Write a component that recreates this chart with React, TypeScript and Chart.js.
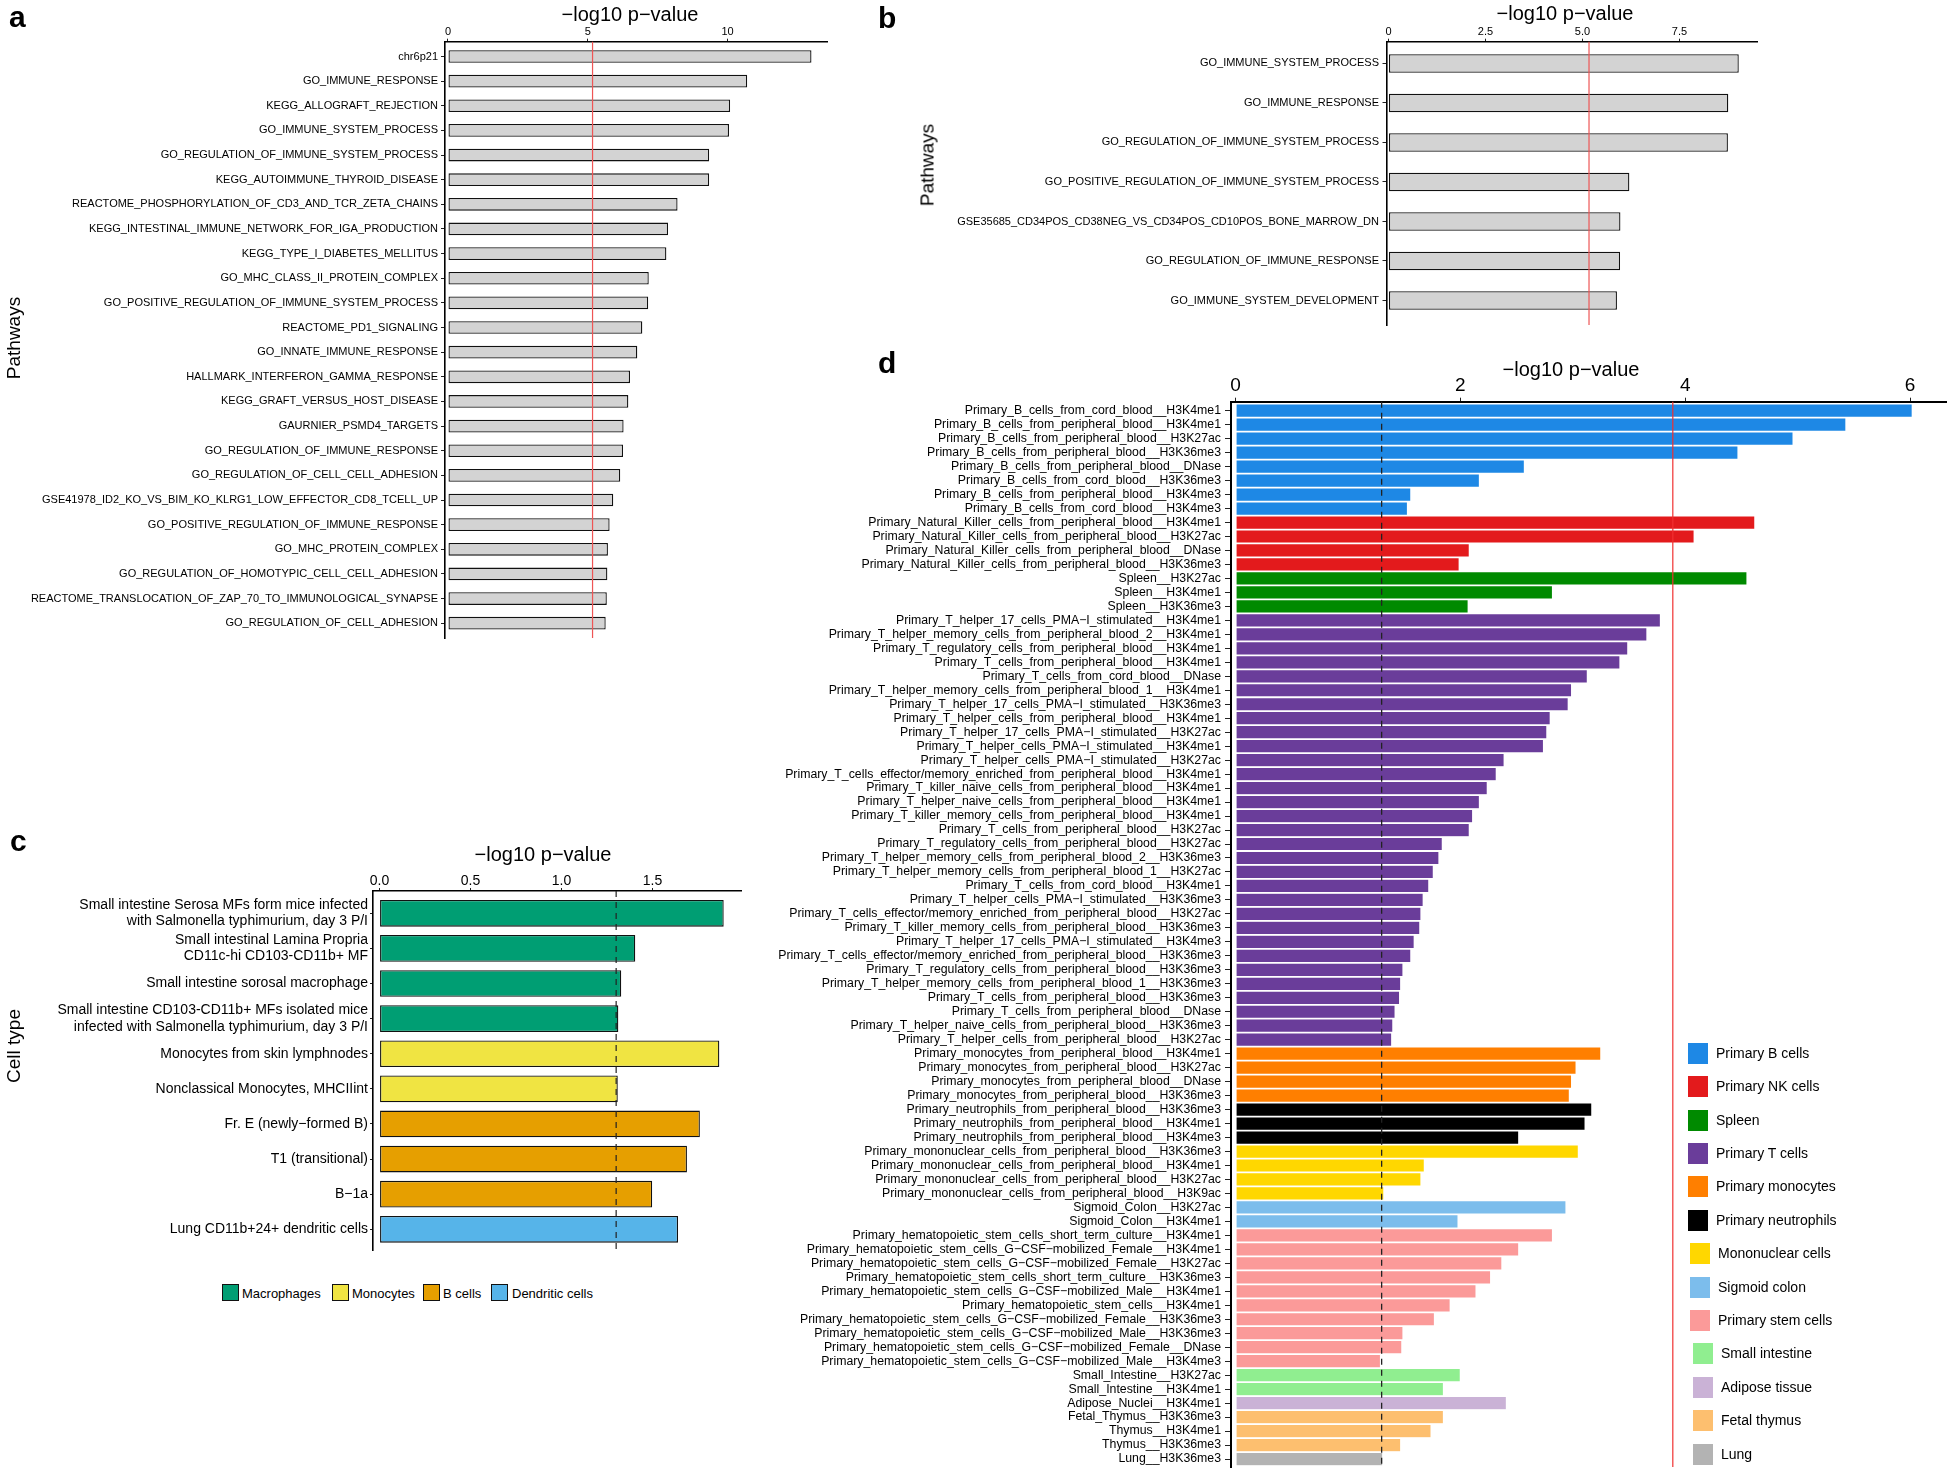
import React, { useEffect, useRef } from 'react';
import { Chart, registerables } from 'chart.js';

Chart.register(...registerables);

const FONT = "'Liberation Sans', Arial, Helvetica, sans-serif";
Chart.defaults.font.family = FONT;
Chart.defaults.color = '#000';

// ---------------- Panel a ----------------
const aLabels = [
  'chr6p21',
  'GO_IMMUNE_RESPONSE',
  'KEGG_ALLOGRAFT_REJECTION',
  'GO_IMMUNE_SYSTEM_PROCESS',
  'GO_REGULATION_OF_IMMUNE_SYSTEM_PROCESS',
  'KEGG_AUTOIMMUNE_THYROID_DISEASE',
  'REACTOME_PHOSPHORYLATION_OF_CD3_AND_TCR_ZETA_CHAINS',
  'KEGG_INTESTINAL_IMMUNE_NETWORK_FOR_IGA_PRODUCTION',
  'KEGG_TYPE_I_DIABETES_MELLITUS',
  'GO_MHC_CLASS_II_PROTEIN_COMPLEX',
  'GO_POSITIVE_REGULATION_OF_IMMUNE_SYSTEM_PROCESS',
  'REACTOME_PD1_SIGNALING',
  'GO_INNATE_IMMUNE_RESPONSE',
  'HALLMARK_INTERFERON_GAMMA_RESPONSE',
  'KEGG_GRAFT_VERSUS_HOST_DISEASE',
  'GAURNIER_PSMD4_TARGETS',
  'GO_REGULATION_OF_IMMUNE_RESPONSE',
  'GO_REGULATION_OF_CELL_CELL_ADHESION',
  'GSE41978_ID2_KO_VS_BIM_KO_KLRG1_LOW_EFFECTOR_CD8_TCELL_UP',
  'GO_POSITIVE_REGULATION_OF_IMMUNE_RESPONSE',
  'GO_MHC_PROTEIN_COMPLEX',
  'GO_REGULATION_OF_HOMOTYPIC_CELL_CELL_ADHESION',
  'REACTOME_TRANSLOCATION_OF_ZAP_70_TO_IMMUNOLOGICAL_SYNAPSE',
  'GO_REGULATION_OF_CELL_ADHESION',
];
const aValues = [
  13.0, 10.7, 10.09, 10.05, 9.34, 9.34, 8.21, 7.87, 7.81, 7.18, 7.16, 6.95,
  6.77, 6.51, 6.45, 6.28, 6.26, 6.16, 5.91, 5.78, 5.72, 5.7, 5.68, 5.64,
];
const aTicks = [0, 5, 10];
const aTickLabels = ['0', '5', '10'];

// ---------------- Panel b ----------------
const bLabels = [
  'GO_IMMUNE_SYSTEM_PROCESS',
  'GO_IMMUNE_RESPONSE',
  'GO_REGULATION_OF_IMMUNE_SYSTEM_PROCESS',
  'GO_POSITIVE_REGULATION_OF_IMMUNE_SYSTEM_PROCESS',
  'GSE35685_CD34POS_CD38NEG_VS_CD34POS_CD10POS_BONE_MARROW_DN',
  'GO_REGULATION_OF_IMMUNE_RESPONSE',
  'GO_IMMUNE_SYSTEM_DEVELOPMENT',
];
const bValues = [9.03, 8.76, 8.75, 6.21, 5.98, 5.97, 5.89];
const bTicks = [0, 2.5, 5, 7.5];
const bTickLabels = ['0', '2.5', '5.0', '7.5'];

const abThreshold = 5.17;

// ---------------- Panel c ----------------
const cLabels: (string | string[])[] = [
  ['Small intestine Serosa MFs form mice infected', 'with Salmonella typhimurium, day 3 P/I'],
  ['Small intestinal Lamina Propria', 'CD11c-hi CD103-CD11b+ MF'],
  'Small intestine sorosal macrophage',
  ['Small intestine CD103-CD11b+ MFs isolated mice', 'infected with Salmonella typhimurium, day 3 P/I'],
  'Monocytes from skin lymphnodes',
  'Nonclassical Monocytes, MHCIIint',
  'Fr. E (newly\u2212formed B)',
  'T1 (transitional)',
  'B\u22121a',
  'Lung CD11b+24+ dendritic cells',
];
const cValues = [1.891, 1.405, 1.328, 1.312, 1.867, 1.309, 1.76, 1.689, 1.498, 1.64];
const cGroupOfBar = [0, 0, 0, 0, 1, 1, 2, 2, 2, 3];
const cGroupNames = ['Macrophages', 'Monocytes', 'B cells', 'Dendritic cells'];
const cGroupColors = ['#009E73', '#F0E442', '#E69F00', '#56B4E9'];
const cTicks = [0, 0.5, 1.0, 1.5];
const cTickLabels = ['0.0', '0.5', '1.0', '1.5'];
const cDashed = 1.3;

// ---------------- Panel d ----------------
const dLabels = [
  'Primary_B_cells_from_cord_blood__H3K4me1',
  'Primary_B_cells_from_peripheral_blood__H3K4me1',
  'Primary_B_cells_from_peripheral_blood__H3K27ac',
  'Primary_B_cells_from_peripheral_blood__H3K36me3',
  'Primary_B_cells_from_peripheral_blood__DNase',
  'Primary_B_cells_from_cord_blood__H3K36me3',
  'Primary_B_cells_from_peripheral_blood__H3K4me3',
  'Primary_B_cells_from_cord_blood__H3K4me3',
  'Primary_Natural_Killer_cells_from_peripheral_blood__H3K4me1',
  'Primary_Natural_Killer_cells_from_peripheral_blood__H3K27ac',
  'Primary_Natural_Killer_cells_from_peripheral_blood__DNase',
  'Primary_Natural_Killer_cells_from_peripheral_blood__H3K36me3',
  'Spleen__H3K27ac',
  'Spleen__H3K4me1',
  'Spleen__H3K36me3',
  'Primary_T_helper_17_cells_PMA\u2212I_stimulated__H3K4me1',
  'Primary_T_helper_memory_cells_from_peripheral_blood_2__H3K4me1',
  'Primary_T_regulatory_cells_from_peripheral_blood__H3K4me1',
  'Primary_T_cells_from_peripheral_blood__H3K4me1',
  'Primary_T_cells_from_cord_blood__DNase',
  'Primary_T_helper_memory_cells_from_peripheral_blood_1__H3K4me1',
  'Primary_T_helper_17_cells_PMA\u2212I_stimulated__H3K36me3',
  'Primary_T_helper_cells_from_peripheral_blood__H3K4me1',
  'Primary_T_helper_17_cells_PMA\u2212I_stimulated__H3K27ac',
  'Primary_T_helper_cells_PMA\u2212I_stimulated__H3K4me1',
  'Primary_T_helper_cells_PMA\u2212I_stimulated__H3K27ac',
  'Primary_T_cells_effector/memory_enriched_from_peripheral_blood__H3K4me1',
  'Primary_T_killer_naive_cells_from_peripheral_blood__H3K4me1',
  'Primary_T_helper_naive_cells_from_peripheral_blood__H3K4me1',
  'Primary_T_killer_memory_cells_from_peripheral_blood__H3K4me1',
  'Primary_T_cells_from_peripheral_blood__H3K27ac',
  'Primary_T_regulatory_cells_from_peripheral_blood__H3K27ac',
  'Primary_T_helper_memory_cells_from_peripheral_blood_2__H3K36me3',
  'Primary_T_helper_memory_cells_from_peripheral_blood_1__H3K27ac',
  'Primary_T_cells_from_cord_blood__H3K4me1',
  'Primary_T_helper_cells_PMA\u2212I_stimulated__H3K36me3',
  'Primary_T_cells_effector/memory_enriched_from_peripheral_blood__H3K27ac',
  'Primary_T_killer_memory_cells_from_peripheral_blood__H3K36me3',
  'Primary_T_helper_17_cells_PMA\u2212I_stimulated__H3K4me3',
  'Primary_T_cells_effector/memory_enriched_from_peripheral_blood__H3K36me3',
  'Primary_T_regulatory_cells_from_peripheral_blood__H3K36me3',
  'Primary_T_helper_memory_cells_from_peripheral_blood_1__H3K36me3',
  'Primary_T_cells_from_peripheral_blood__H3K36me3',
  'Primary_T_cells_from_peripheral_blood__DNase',
  'Primary_T_helper_naive_cells_from_peripheral_blood__H3K36me3',
  'Primary_T_helper_cells_from_peripheral_blood__H3K27ac',
  'Primary_monocytes_from_peripheral_blood__H3K4me1',
  'Primary_monocytes_from_peripheral_blood__H3K27ac',
  'Primary_monocytes_from_peripheral_blood__DNase',
  'Primary_monocytes_from_peripheral_blood__H3K36me3',
  'Primary_neutrophils_from_peripheral_blood__H3K36me3',
  'Primary_neutrophils_from_peripheral_blood__H3K4me1',
  'Primary_neutrophils_from_peripheral_blood__H3K4me3',
  'Primary_mononuclear_cells_from_peripheral_blood__H3K36me3',
  'Primary_mononuclear_cells_from_peripheral_blood__H3K4me1',
  'Primary_mononuclear_cells_from_peripheral_blood__H3K27ac',
  'Primary_mononuclear_cells_from_peripheral_blood__H3K9ac',
  'Sigmoid_Colon__H3K27ac',
  'Sigmoid_Colon__H3K4me1',
  'Primary_hematopoietic_stem_cells_short_term_culture__H3K4me1',
  'Primary_hematopoietic_stem_cells_G\u2212CSF\u2212mobilized_Female__H3K4me1',
  'Primary_hematopoietic_stem_cells_G\u2212CSF\u2212mobilized_Female__H3K27ac',
  'Primary_hematopoietic_stem_cells_short_term_culture__H3K36me3',
  'Primary_hematopoietic_stem_cells_G\u2212CSF\u2212mobilized_Male__H3K4me1',
  'Primary_hematopoietic_stem_cells__H3K4me1',
  'Primary_hematopoietic_stem_cells_G\u2212CSF\u2212mobilized_Female__H3K36me3',
  'Primary_hematopoietic_stem_cells_G\u2212CSF\u2212mobilized_Male__H3K36me3',
  'Primary_hematopoietic_stem_cells_G\u2212CSF\u2212mobilized_Female__DNase',
  'Primary_hematopoietic_stem_cells_G\u2212CSF\u2212mobilized_Male__H3K4me3',
  'Small_Intestine__H3K27ac',
  'Small_Intestine__H3K4me1',
  'Adipose_Nuclei__H3K4me1',
  'Fetal_Thymus__H3K36me3',
  'Thymus__H3K4me1',
  'Thymus__H3K36me3',
  'Lung__H3K36me3',
];
const dValues = [
  // B cells
  6.02, 5.43, 4.96, 4.47, 2.57, 2.17, 1.56, 1.53,
  // NK cells
  4.62, 4.08, 2.08, 1.99,
  // Spleen
  4.55, 2.82, 2.07,
  // T cells
  3.78, 3.66, 3.49, 3.42, 3.13, 2.99, 2.96, 2.8, 2.77, 2.74, 2.39, 2.32, 2.24,
  2.17, 2.11, 2.08, 1.84, 1.81, 1.76, 1.72, 1.67, 1.65, 1.64, 1.59, 1.56, 1.49,
  1.47, 1.46, 1.42, 1.4, 1.39,
  // Monocytes
  3.25, 3.03, 2.99, 2.97,
  // Neutrophils
  3.17, 3.11, 2.52,
  // Mononuclear
  3.05, 1.68, 1.65, 1.32,
  // Sigmoid colon
  2.94, 1.98,
  // Stem cells
  2.82, 2.52, 2.37, 2.27, 2.14, 1.91, 1.77, 1.49, 1.48, 1.29,
  // Small intestine
  2.0, 1.85,
  // Adipose
  2.41,
  // Thymus
  1.85, 1.74, 1.47,
  // Lung
  1.31,
];
const dGroupCounts = [8, 4, 3, 31, 4, 3, 4, 2, 10, 2, 1, 3, 1];
const dGroupNames = [
  'Primary B cells',
  'Primary NK cells',
  'Spleen',
  'Primary T cells',
  'Primary monocytes',
  'Primary neutrophils',
  'Mononuclear cells',
  'Sigmoid colon',
  'Primary stem cells',
  'Small intestine',
  'Adipose tissue',
  'Fetal thymus',
  'Lung',
];
const dGroupColors = [
  '#1E88E5',
  '#E31A1C',
  '#008A00',
  '#6A3D9A',
  '#FF7F00',
  '#000000',
  '#FFD700',
  '#7CBDEC',
  '#FB9A99',
  '#90EE90',
  '#CAB2D6',
  '#FDBF6F',
  '#B3B3B3',
];
const dTicks = [0, 2, 4, 6];
const dTickLabels = ['0', '2', '4', '6'];
const dDashed = 1.3;
const dRed = 3.89;

// ---------------- helpers ----------------
type RefLine = { value: number; color: string; width: number; dash: number[] };

function refLinePlugin(lines: RefLine[]) {
  return {
    id: 'refLines',
    afterDatasetsDraw(chart: any) {
      const { ctx, chartArea } = chart;
      const x = chart.scales.x;
      ctx.save();
      for (const l of lines) {
        const px = x.getPixelForValue(l.value);
        ctx.beginPath();
        ctx.strokeStyle = l.color;
        ctx.lineWidth = l.width;
        ctx.setLineDash(l.dash);
        ctx.moveTo(px, chartArea.top);
        ctx.lineTo(px, chartArea.bottom);
        ctx.stroke();
      }
      ctx.restore();
    },
  };
}

type PanelSpec = {
  labels: (string | string[])[];
  values: number[];
  colors: string | string[];
  borderColor: string;
  borderWidth: number;
  barPct: number;
  xMin: number;
  xMax: number;
  xTicks: number[];
  xTickLabels: string[];
  xTickSize: number;
  xTickLen: number;
  xTickPad: number;
  yMin: number;
  yMax: number;
  yTickSize: number;
  yLineHeight: number;
  yTickLen: number;
  yTickPad: number;
  yAxisWidth: number;
  xAxisHeight: number;
  padRight: number;
  padBottom: number;
  axisWidth: number;
  lines: RefLine[];
};

function makeConfig(p: PanelSpec): any {
  return {
    type: 'bar',
    data: {
      datasets: [
        {
          data: p.values.map((v, i) => ({ x: v, y: i })),
          backgroundColor: p.colors,
          borderColor: p.borderColor,
          borderWidth: p.borderWidth,
          borderSkipped: false,
          barPercentage: p.barPct,
          categoryPercentage: 1,
        },
      ],
    },
    options: {
      indexAxis: 'y',
      animation: false,
      responsive: true,
      maintainAspectRatio: false,
      events: [],
      layout: { padding: { left: 0, top: 0, right: p.padRight, bottom: p.padBottom } },
      plugins: { legend: { display: false }, tooltip: { enabled: false } },
      scales: {
        x: {
          type: 'linear',
          position: 'top',
          min: p.xMin,
          max: p.xMax,
          offset: false,
          afterBuildTicks: (s: any) => {
            s.ticks = p.xTicks.map((v) => ({ value: v }));
          },
          afterFit: (s: any) => {
            s.height = p.xAxisHeight;
            s.paddingLeft = 0;
            s.paddingRight = 0;
          },
          ticks: {
            color: '#000',
            font: { family: FONT, size: p.xTickSize, lineHeight: 1 },
            padding: p.xTickPad,
            maxRotation: 0,
            minRotation: 0,
            autoSkip: false,
            callback: (_v: any, i: number) => p.xTickLabels[i],
          },
          grid: {
            display: true,
            offset: false,
            drawOnChartArea: false,
            drawTicks: true,
            tickLength: p.xTickLen,
            color: '#222',
            lineWidth: 1,
          },
          border: { display: true, color: '#000', width: p.axisWidth },
        },
        y: {
          type: 'linear',
          min: p.yMin,
          max: p.yMax,
          reverse: true,
          offset: false,
          afterBuildTicks: (s: any) => {
            s.ticks = p.labels.map((_l, i) => ({ value: i }));
          },
          afterFit: (s: any) => {
            s.width = p.yAxisWidth;
            s.paddingTop = 0;
            s.paddingBottom = 0;
          },
          ticks: {
            color: '#000',
            font: { family: FONT, size: p.yTickSize, lineHeight: p.yLineHeight },
            padding: p.yTickPad,
            autoSkip: false,
            callback: (v: any) => p.labels[v as number],
          },
          grid: {
            display: true,
            offset: false,
            drawOnChartArea: false,
            drawTicks: true,
            tickLength: p.yTickLen,
            color: '#222',
            lineWidth: 1,
          },
          border: { display: true, color: '#000', width: p.axisWidth },
        },
      },
    },
    plugins: [refLinePlugin(p.lines)],
  };
}

function BarPanel(props: { left: number; top: number; width: number; height: number; spec: () => PanelSpec }) {
  const ref = useRef<HTMLCanvasElement>(null);
  useEffect(() => {
    if (!ref.current) return;
    const chart = new Chart(ref.current, makeConfig(props.spec()));
    return () => chart.destroy();
  }, []);
  return (
    <div style={{ position: 'absolute', left: props.left, top: props.top, width: props.width, height: props.height }}>
      <canvas ref={ref} />
    </div>
  );
}

function Txt(props: {
  x: number;
  y: number;
  size: number;
  children: React.ReactNode;
  bold?: boolean;
  rotate?: number;
  align?: 'center' | 'left';
}) {
  const tx = props.align === 'left' ? '0' : '-50%';
  return (
    <div
      style={{
        position: 'absolute',
        left: props.x,
        top: props.y,
        transform: `translate(${tx}, -50%) rotate(${props.rotate || 0}deg)`,
        fontFamily: FONT,
        fontSize: props.size,
        fontWeight: props.bold ? 700 : 400,
        lineHeight: 1,
        whiteSpace: 'nowrap',
        color: '#000',
      }}
    >
      {props.children}
    </div>
  );
}

function Letter(props: { x: number; y: number; children: React.ReactNode }) {
  return (
    <div
      style={{
        position: 'absolute',
        left: props.x,
        top: props.y,
        fontFamily: FONT,
        fontSize: 30,
        fontWeight: 700,
        lineHeight: 1,
        color: '#000',
      }}
    >
      {props.children}
    </div>
  );
}

const TITLE = '\u2212log10 p\u2212value';

// expand group colours per bar
function dBarColors(): string[] {
  const out: string[] = [];
  dGroupCounts.forEach((n, g) => {
    for (let k = 0; k < n; k++) out.push(dGroupColors[g]);
  });
  return out;
}

export default function App() {
  const specA = (): PanelSpec => ({
    labels: aLabels,
    values: aValues,
    colors: '#D3D3D3',
    borderColor: '#111',
    borderWidth: 1.3,
    barPct: 0.515,
    xMin: -0.107,
    xMax: 13.555,
    xTicks: aTicks,
    xTickLabels: aTickLabels,
    xTickSize: 11,
    xTickLen: 3,
    xTickPad: 1.5,
    yMin: -0.6,
    yMax: aLabels.length - 1 + 0.6,
    yTickSize: 11,
    yLineHeight: 1.2,
    yTickLen: 4,
    yTickPad: 3,
    yAxisWidth: 445,
    xAxisHeight: 41.7,
    padRight: 8,
    padBottom: 12,
    axisWidth: 1.6,
    lines: [{ value: abThreshold, color: '#EE5555', width: 1.2, dash: [] }],
  });
  const specB = (): PanelSpec => ({
    labels: bLabels,
    values: bValues,
    colors: '#D3D3D3',
    borderColor: '#111',
    borderWidth: 1.3,
    barPct: 0.47,
    xMin: -0.05,
    xMax: 9.5,
    xTicks: bTicks,
    xTickLabels: bTickLabels,
    xTickSize: 11,
    xTickLen: 3,
    xTickPad: 1.5,
    yMin: -0.55,
    yMax: bLabels.length - 1 + 0.62,
    yTickSize: 11,
    yLineHeight: 1.2,
    yTickLen: 4,
    yTickPad: 3.5,
    yAxisWidth: 506.5,
    xAxisHeight: 41.7,
    padRight: 13,
    padBottom: 15,
    axisWidth: 1.6,
    lines: [{ value: abThreshold, color: '#EE5555', width: 1.2, dash: [] }],
  });
  const specC = (): PanelSpec => ({
    labels: cLabels,
    values: cValues,
    colors: cGroupOfBar.map((g) => cGroupColors[g]),
    borderColor: '#111',
    borderWidth: 1.3,
    barPct: 0.76,
    xMin: -0.036,
    xMax: 1.986,
    xTicks: cTicks,
    xTickLabels: cTickLabels,
    xTickSize: 14,
    xTickLen: 3,
    xTickPad: 0,
    yMin: -0.635,
    yMax: cLabels.length - 1 + 0.59,
    yTickSize: 14,
    yLineHeight: 1.15,
    yTickLen: 3,
    yTickPad: 2,
    yAxisWidth: 373,
    xAxisHeight: 71,
    padRight: 19,
    padBottom: 25,
    axisWidth: 1.6,
    lines: [{ value: cDashed, color: '#222', width: 1.2, dash: [6, 5] }],
  });
  const specD = (): PanelSpec => ({
    labels: dLabels,
    values: dValues,
    colors: dBarColors(),
    borderColor: 'rgba(255,255,255,0.9)',
    borderWidth: 0.6,
    barPct: 0.96,
    xMin: -0.04,
    xMax: 6.32,
    xTicks: dTicks,
    xTickLabels: dTickLabels,
    xTickSize: 19,
    xTickLen: 4,
    xTickPad: 2,
    yMin: -0.644,
    yMax: dLabels.length - 1 + 0.57,
    yTickSize: 12.3,
    yLineHeight: 1.1,
    yTickLen: 6,
    yTickPad: 4,
    yAxisWidth: 471,
    xAxisHeight: 61.7,
    padRight: 4,
    padBottom: 6,
    axisWidth: 2,
    lines: [
      { value: dDashed, color: '#222', width: 1.3, dash: [6, 5] },
      { value: dRed, color: '#F03030', width: 1.2, dash: [] },
    ],
  });

  const cLegendX = [
    { box: 222, text: 242 },
    { box: 332, text: 352 },
    { box: 423, text: 443 },
    { box: 491, text: 512 },
  ];

  return (
    <div
      style={{
        position: 'absolute',
        left: 0,
        top: 0,
        width: 1950,
        height: 1473,
        overflow: 'hidden',
        background: '#fff',
      }}
    >
      <BarPanel left={0} top={0} width={835} height={650} spec={specA} />
      <BarPanel left={880} top={0} width={890} height={340} spec={specB} />
      <BarPanel left={0} top={820} width={760} height={1275 - 820} spec={specC} />
      <BarPanel left={760} top={340} width={1190} height={1133} spec={specD} />

      {/* panel letters */}
      <Letter x={9} y={2}>a</Letter>
      <Letter x={878} y={3}>b</Letter>
      <Letter x={10} y={826}>c</Letter>
      <Letter x={878} y={348}>d</Letter>

      {/* axis titles */}
      <Txt x={630} y={14} size={20}>{TITLE}</Txt>
      <Txt x={13} y={338} size={19} rotate={-90}>Pathways</Txt>
      <Txt x={1565} y={13} size={20}>{TITLE}</Txt>
      <Txt x={927} y={165} size={19} rotate={-90}>Pathways</Txt>
      <Txt x={543} y={853.5} size={20}>{TITLE}</Txt>
      <Txt x={13} y={1046} size={19} rotate={-90}>Cell type</Txt>
      <Txt x={1571} y={368.5} size={20}>{TITLE}</Txt>

      {/* legend c */}
      {cGroupNames.map((name, i) => (
        <React.Fragment key={name}>
          <div
            style={{
              position: 'absolute',
              left: cLegendX[i].box,
              top: 1292.7 - 8.5,
              width: 15,
              height: 15,
              background: cGroupColors[i],
              border: '1px solid #111',
            }}
          />
          <Txt x={cLegendX[i].text} y={1293} size={13} align="left">
            {name}
          </Txt>
        </React.Fragment>
      ))}

      {/* legend d */}
      {dGroupNames.map((name, i) => {
        const shift = i >= 9 ? 5 : i >= 6 ? 2 : 0;
        const cy = 1052.7 + i * 33.4;
        return (
          <React.Fragment key={name}>
            <div
              style={{
                position: 'absolute',
                left: 1688 + shift,
                top: cy - 10,
                width: 20,
                height: 21,
                background: dGroupColors[i],
              }}
            />
            <Txt x={1716 + shift} y={cy} size={14} align="left">
              {name}
            </Txt>
          </React.Fragment>
        );
      })}
    </div>
  );
}
